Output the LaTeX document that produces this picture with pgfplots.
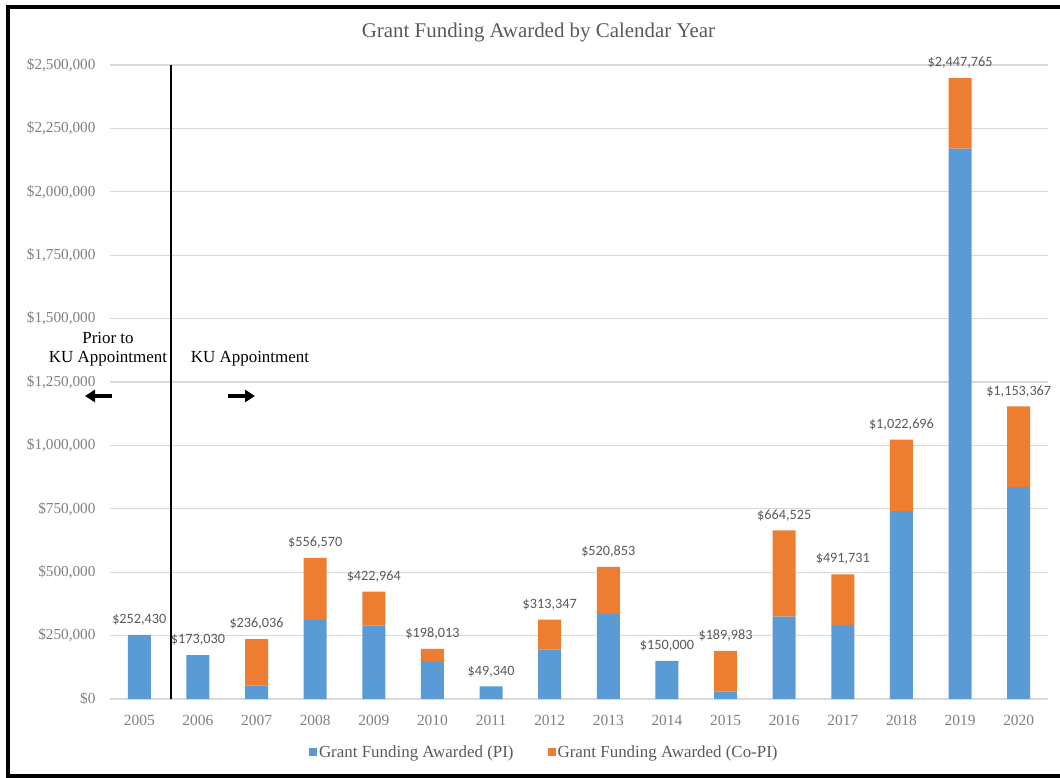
\documentclass[border=0pt]{standalone}
\usepackage{pgfplots}
\pgfplotsset{compat=1.18}
\usepackage{pgfplotstable}
\usepackage{fontspec}
\setmainfont{Liberation Serif}
\newfontfamily\labelfont{Carlito}
\usetikzlibrary{arrows.meta}

\definecolor{piblue}{HTML}{5B9BD5}
\definecolor{coorange}{HTML}{ED7D31}
\definecolor{gridgray}{HTML}{D9D9D9}
\definecolor{titlegray}{HTML}{595959}
\definecolor{tickgray}{HTML}{7F7F7F}

% x: 0 = 2005 ... 15 = 2020
\pgfplotstableread{
x  pi       copi     total    label
0  252430   0        252430   252,430
1  173030   0        173030   173,030
2  54000    182036   236036   236,036
3  312000   244570   556570   556,570
4  290000   132964   422964   422,964
5  149000   49013    198013   198,013
6  49340    0        49340    49,340
7  196000   117347   313347   313,347
8  335500   185353   520853   520,853
9  150000   0        150000   150,000
10 29000    160983   189983   189,983
11 325000   339525   664525   664,525
12 292000   199731   491731   491,731
13 741000   281696   1022696  1,022,696
14 2170000  277765   2447765  2,447,765
15 835000   318367   1153367  1,153,367
}\grants

\pgfplotsset{
	grantaxis/.style={
		at={(110bp,79bp)}, anchor=south west,
		scale only axis,
		width=938bp, height=634bp,
		xmin=-0.5, xmax=15.5,
		ymin=0, ymax=2500000,
		clip=false,
	},
}

\begin{document}
\begin{tikzpicture}[x=1bp,y=1bp]
\path[use as bounding box] (0,0) rectangle (1060,778);

\begin{axis}[
	grantaxis,
	ybar stacked,
	bar width=23bp,
	xtick=data,
	xticklabels={2005,2006,2007,2008,2009,2010,2011,2012,2013,2014,2015,2016,2017,2018,2019,2020},
	ytick={0,250000,500000,750000,1000000,1250000,1500000,1750000,2000000,2250000,2500000},
	scaled y ticks=false,
	yticklabel={\$\pgfmathprintnumber[fixed,precision=0,1000 sep={,}]{\tick}},
	/pgf/number format/assume math mode=true,
	major tick length=0pt,
	axis line style={draw=none},
	ymajorgrids,
	grid style={gridgray, line width=1.3bp},
	xticklabel style={font=\fontsize{15.5}{18}\selectfont, text=tickgray, yshift=-13bp},
	yticklabel style={font=\fontsize{15.3}{18}\selectfont, text=tickgray, xshift=-11bp},
	legend style={
		at={(0.463,-0.0836)}, anchor=center,
		draw=none, fill=none,
		font=\fontsize{17}{20}\selectfont, text=titlegray,
		legend columns=2,
		legend cell align=left,
		/tikz/every even column/.style={column sep=32bp},
		nodes={inner xsep=2bp},
	},
	legend image code/.code={\fill[#1] (0bp,-4bp) rectangle (8bp,4bp);},
]
\addplot[fill=piblue, draw=none] table[x=x, y=pi] {\grants};
\addlegendentry{Grant Funding Awarded (PI)}
\addplot[fill=coorange, draw=none] table[x=x, y=copi] {\grants};
\addlegendentry{Grant Funding Awarded (Co-PI)}
\draw[black, line width=1.8bp] (axis cs:0.54,0) -- (axis cs:0.54,2500000);
\end{axis}

% totals above the bars
\begin{axis}[grantaxis, hide axis]
\addplot[draw=none, mark=none,
	point meta=explicit symbolic,
	nodes near coords={\$\pgfplotspointmeta},
	every node near coord/.style={anchor=south, font=\labelfont\fontsize{14.3}{16}\selectfont, text=titlegray, yshift=6bp},
] table[x=x, y=total, meta=label] {\grants};
\end{axis}

% title
\node[text=titlegray, font=\fontsize{21}{25}\selectfont] at (538.5,745) {Grant Funding Awarded by Calendar Year};

% annotations
\node[align=center, font=\fontsize{17}{19}\selectfont, inner sep=0pt] at (108,428.5) {Prior to\\KU Appointment};
\node[font=\fontsize{17}{19}\selectfont, inner sep=0pt] at (250,419) {KU Appointment};
\draw[-{Triangle[width=12bp,length=10bp]}, line width=4bp] (112,382) -- (85,382);
\draw[-{Triangle[width=12bp,length=10bp]}, line width=4bp] (228,382) -- (255,382);

% frame
\draw[black, line width=3.5bp] (1075,1.8) -- (8,1.8) -- (8,771) -- (1075,771);
\end{tikzpicture}
\end{document}
